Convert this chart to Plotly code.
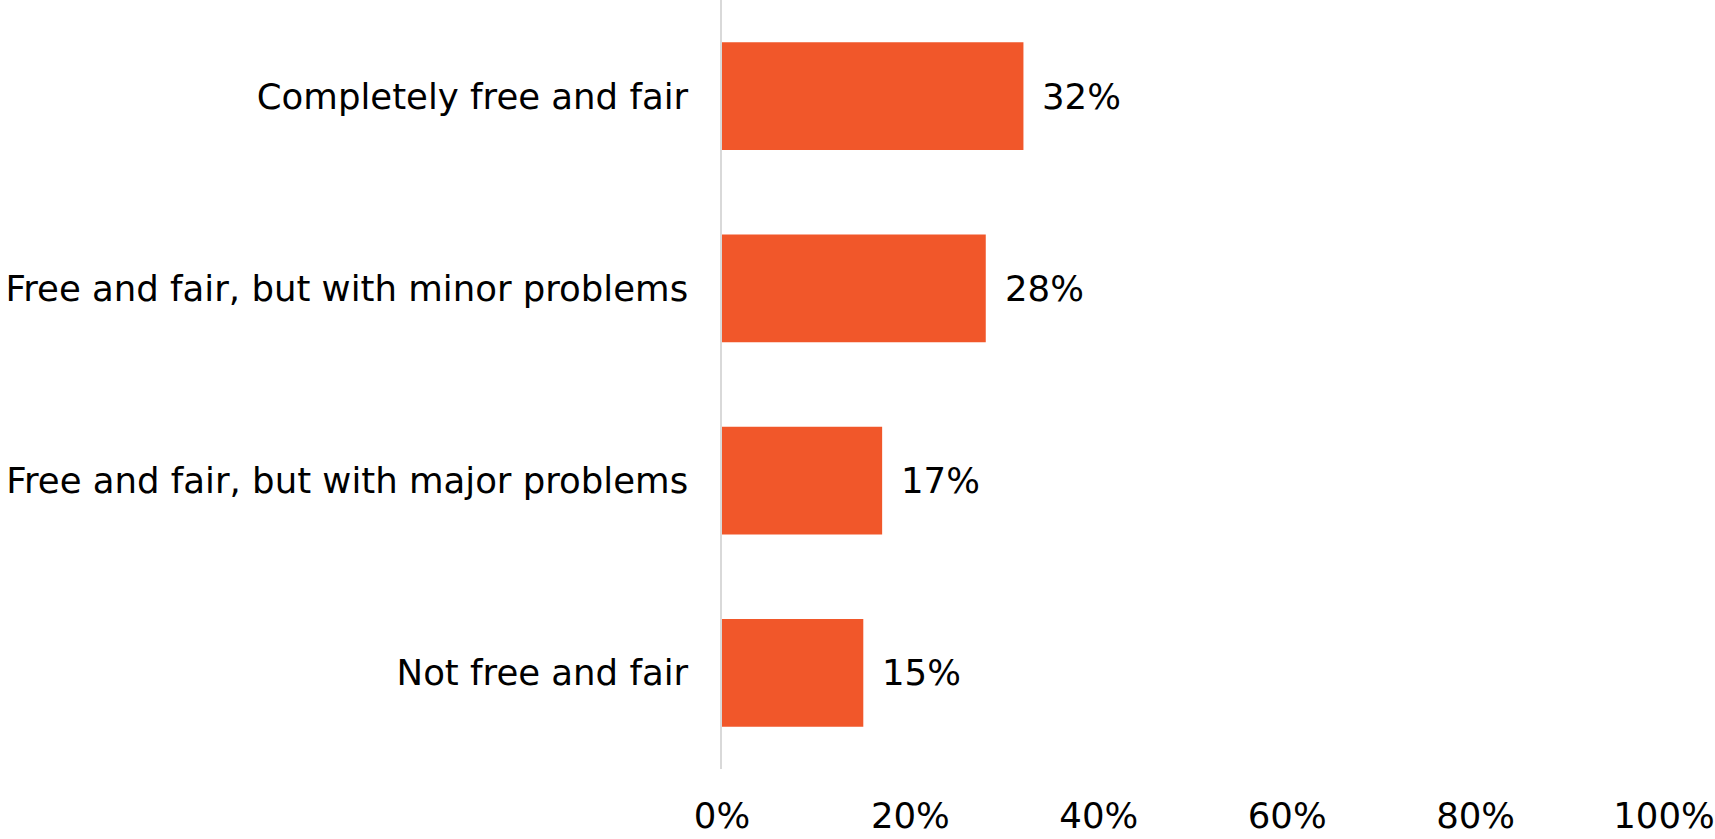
import plotly.graph_objects as go

# Survey responses: how free and fair the election was
categories = [
    "Completely free and fair",
    "Free and fair, but with minor problems",
    "Free and fair, but with major problems",
    "Not free and fair",
]
shares = [0.32, 0.28, 0.17, 0.15]
value_labels = ["32%", "28%", "17%", "15%"]
tick_values = [0, 0.2, 0.4, 0.6, 0.8, 1.0]
tick_labels = ["0%", "20%", "40%", "60%", "80%", "100%"]

FONT = "Century Gothic, DejaVu Sans, sans-serif"
SIZE = 35.5
BAR_COLOR = "#F1572A"

fig = go.Figure(
    go.Bar(
        x=shares,
        y=categories,
        orientation="h",
        marker=dict(color=BAR_COLOR, line=dict(width=0)),
        hoverinfo="skip",
    )
)

# value labels just beyond each bar end
for cat, val, lab in zip(categories, shares, value_labels):
    fig.add_annotation(
        x=val, y=cat, text=lab, showarrow=False,
        xanchor="left", yanchor="middle", xshift=17,
        font=dict(family=FONT, size=SIZE, color="#000000"),
    )

fig.update_layout(
    width=1715,
    height=839,
    margin=dict(l=722, r=45, t=0, b=70),
    paper_bgcolor="white",
    plot_bgcolor="white",
    bargap=0.44,
    showlegend=False,
    font=dict(family=FONT, size=SIZE, color="#000000"),
)
fig.update_xaxes(
    range=[0, 1],
    tickvals=tick_values,
    ticktext=tick_labels,
    showgrid=False,
    zeroline=False,
    showline=False,
    ticks="",
    ticklabelstandoff=22,
    ticklabeloverflow="allow",
    tickfont=dict(family=FONT, size=SIZE, color="#000000"),
)
fig.update_yaxes(
    categoryorder="array",
    categoryarray=categories[::-1],
    range=[-0.5, 3.5],
    showgrid=False,
    zeroline=False,
    showline=True,
    linecolor="#D9D9D9",
    linewidth=1.5,
    ticks="",
    ticklabelstandoff=25,
    tickfont=dict(family=FONT, size=SIZE, color="#000000"),
)

fig.write_html("out.html")
